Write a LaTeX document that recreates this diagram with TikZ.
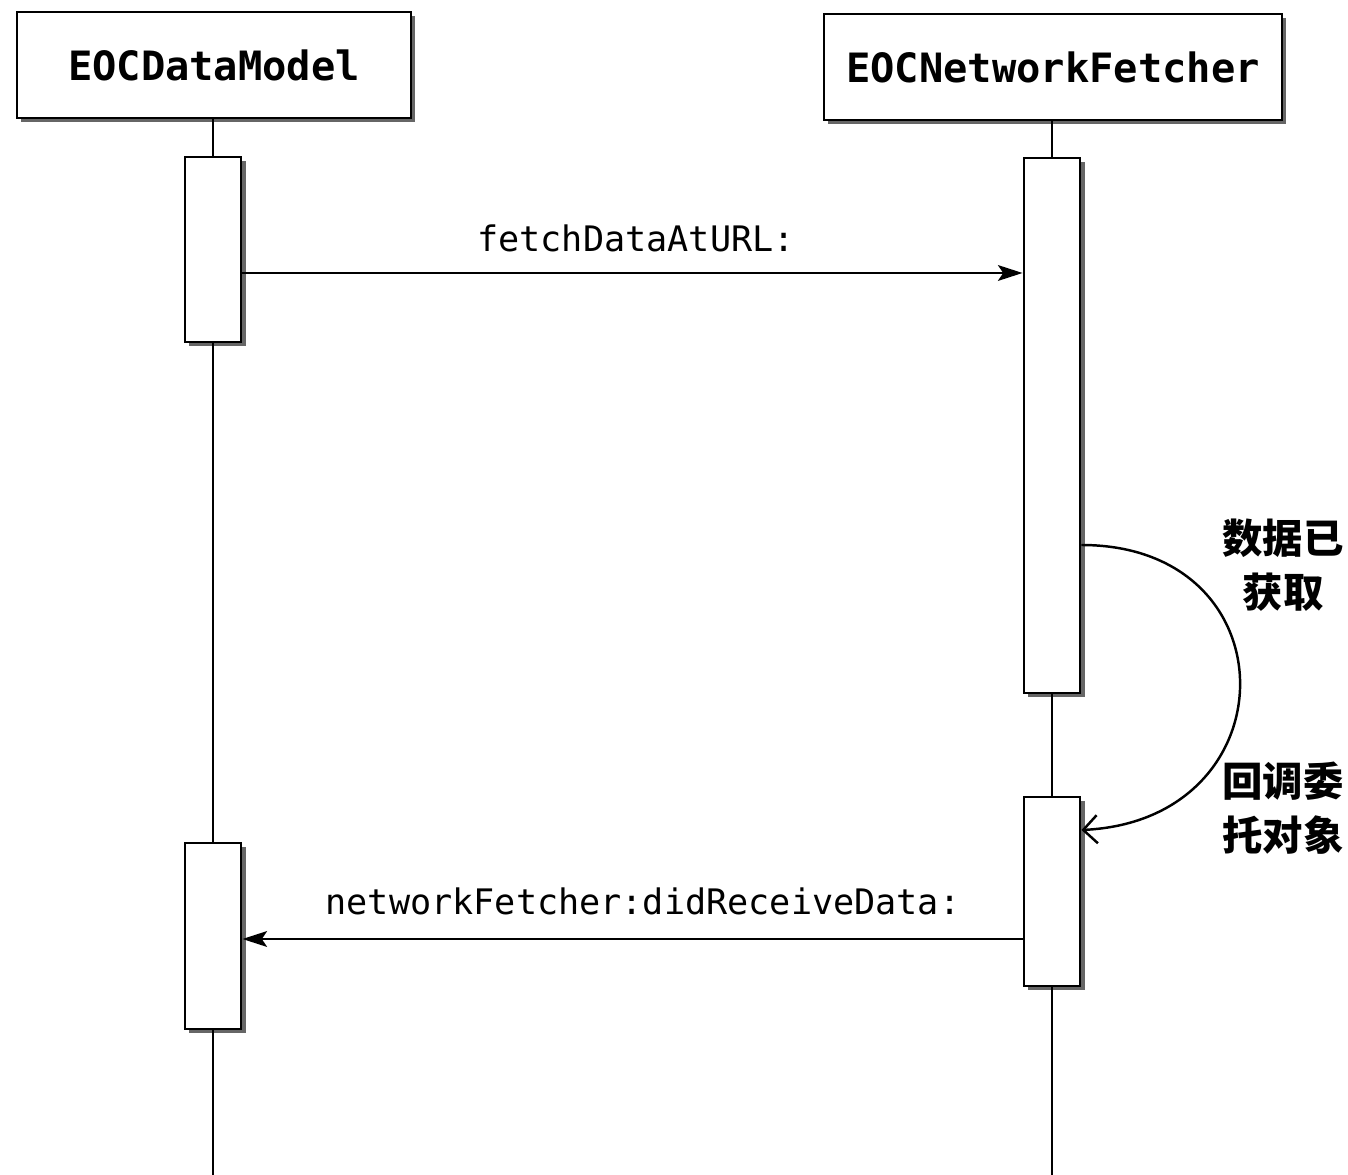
\documentclass[tikz,border=0pt]{standalone}
\usepackage{fontspec}
\setmonofont{DejaVu Sans Mono}
\newfontfamily\cjk{Noto Sans CJK SC}
\usetikzlibrary{shadows,arrows.meta,calc}
\tikzset{
  header/.style={draw, line width=1.6pt, fill=white, minimum width=7.88cm, minimum height=2.12cm,
    font=\ttfamily\bfseries\fontsize{23}{27}\selectfont,
    drop shadow={shadow xshift=2.5pt, shadow yshift=-2.5pt, fill=black!70, opacity=0.85}},
  actbox/.style={draw, line width=1.4pt, fill=white, minimum width=1.13cm,
    drop shadow={shadow xshift=2.5pt, shadow yshift=-2.5pt, fill=black!70, opacity=0.85}},
  lifeline/.style={line width=1.1pt},
  msg/.style={line width=1.1pt, -{Stealth[length=14pt,width=9pt,inset=3pt]}},
  msglabel/.style={font=\ttfamily\fontsize{20}{24}\selectfont},
  selfmsg/.style={line width=1.4pt, -{Straight Barb[length=8pt,width=16pt,line width=1.4pt]}},
  cjklabel/.style={font=\cjk\bfseries\fontsize{23}{31}\selectfont, align=center}
}
\begin{document}
\begin{tikzpicture}[x=0.02cm,y=-0.02cm]
\useasboundingbox[fill=white] (0,0) rectangle (1348,1175);
% headers
\node[header] (m1) at (214,65) {EOCDataModel};
\node[header, minimum width=9.16cm] (m2) at (1053,67) {EOCNetworkFetcher};
% activation boxes
\node[actbox, minimum height=3.7cm] (a1) at (213,249.5) {};
\node[actbox, minimum height=10.7cm] (a2) at (1052,425.5) {};
\node[actbox, minimum height=3.72cm] (b1) at (213,936) {};
\node[actbox, minimum height=3.78cm] (b2) at (1052,891.5) {};
\coordinate (e1) at (213,1175);
\coordinate (e2) at (1052,1175);
% lifelines
\draw[lifeline] (m1.south -| a1) -- (a1.north);
\draw[lifeline] (a1.south) -- (b1.north);
\draw[lifeline] (b1.south) -- (e1);
\draw[lifeline] (m2.south -| a2) -- (a2.north);
\draw[lifeline] (a2.south) -- (b2.north);
\draw[lifeline] (b2.south) -- (e2);
% message y levels
\coordinate (y1) at (0,273);
\coordinate (y2) at (0,939);
\coordinate (y3) at (0,545);
\coordinate (y4) at (0,830);
% messages
\draw[msg] (a1.east |- y1) -- (a2.west |- y1);
\node[msglabel] (l1) at (636,238) {fetchDataAtURL:};
\draw[msg] (b2.west |- y2) -- (b1.east |- y2);
\node[msglabel] (l2) at (643,901) {networkFetcher:didReceiveData:};
% self callback
\draw[selfmsg] (a2.east |- y3) .. controls +(212,0) and +(210,-10) .. (b2.east |- y4);
\node[cjklabel] (c1) at (1283,565) {数据已\\获取};
\node[cjklabel] (c2) at (1283,808) {回调委\\托对象};
\end{tikzpicture}
\end{document}
